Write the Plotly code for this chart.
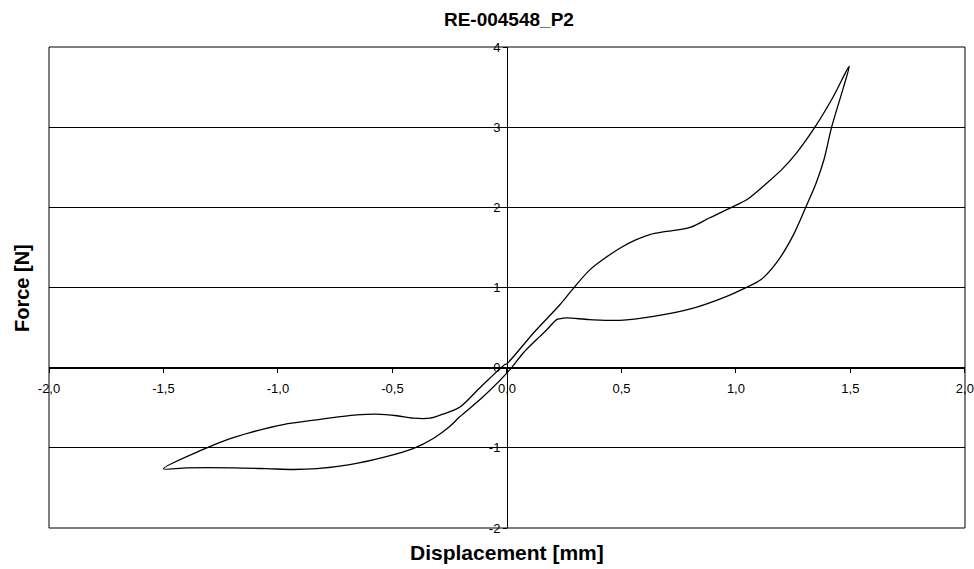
import plotly.graph_objects as go

# Hysteresis loop: displacement [mm] vs force [N], traced in path order
disp_mm = [
    0.0, 0.115, 0.231, 0.29, 0.362, 0.43, 0.493, 0.56, 0.624, 0.697, 0.80, 0.886,
    0.981, 1.05, 1.134, 1.20, 1.265, 1.345, 1.425, 1.495,
    1.47, 1.418, 1.385, 1.35, 1.305, 1.25, 1.18, 1.11, 1.03, 0.96, 0.81, 0.64,
    0.493, 0.36, 0.26, 0.23, 0.217, 0.173, 0.144, 0.07, 0.013,
    -0.103, -0.205, -0.249, -0.32, -0.41, -0.54, -0.686, -0.83, -0.933, -1.05,
    -1.195, -1.40, -1.50,
    -1.319, -1.224, -1.122, -0.977, -0.83, -0.656, -0.569, -0.48, -0.41, -0.336,
    -0.28, -0.205, -0.118, -0.009, 0.0,
]
force_N = [
    0.05, 0.43, 0.785, 0.99, 1.22, 1.37, 1.49, 1.59, 1.66, 1.70, 1.75, 1.87,
    2.0, 2.10, 2.30, 2.47, 2.68, 3.0, 3.38, 3.76,
    3.5, 3.0, 2.6, 2.3, 2.0, 1.65, 1.32, 1.1, 0.98, 0.89, 0.74, 0.64,
    0.59, 0.60, 0.62, 0.61, 0.60, 0.47, 0.39, 0.18, -0.025,
    -0.36, -0.61, -0.73, -0.88, -1.01, -1.12, -1.21, -1.26, -1.27, -1.26,
    -1.25, -1.25, -1.26,
    -1.01, -0.90, -0.81, -0.71, -0.65, -0.59, -0.58, -0.60, -0.63, -0.63,
    -0.58, -0.49, -0.25, 0.04, 0.05,
]

x_tick_vals = [-2.0, -1.5, -1.0, -0.5, 0.0, 0.5, 1.0, 1.5, 2.0]
x_tick_text = ["-2,0", "-1,5", "-1,0", "-0,5", "0,0", "0,5", "1,0", "1,5", "2,0"]
y_tick_vals = [-2, -1, 0, 1, 2, 3, 4]
y_tick_text = ["-2", "-1", "0", "1", "2", "3", "4"]

chart_title = "RE-004548_P2"
x_title = "Displacement [mm]"
y_title = "Force [N]"

FONT = "Liberation Sans, Arial, sans-serif"

fig = go.Figure()
fig.add_trace(go.Scatter(
    x=disp_mm, y=force_N, mode="lines",
    line=dict(color="black", width=1.3, shape="spline", smoothing=0.9),
    showlegend=False, hoverinfo="skip",
))

fig.update_layout(
    width=974, height=569, autosize=False,
    margin=dict(l=49, r=9, t=47, b=41),
    paper_bgcolor="white", plot_bgcolor="white",
    font=dict(family=FONT, color="black", size=13),
    title=dict(text="<b>" + chart_title + "</b>", x=0.5225, xanchor="center",
               y=1 - 19 / 569, yanchor="middle",
               font=dict(family=FONT, size=19, color="black")),
    xaxis=dict(
        range=[-2, 2.0005], anchor="free", position=1 / 3, automargin=False,
        tickvals=x_tick_vals, ticktext=x_tick_text,
        showgrid=False, zeroline=False,
        showline=True, linecolor="black", linewidth=1,
        ticks="outside", ticklen=4, tickcolor="black",
        ticklabelstandoff=5,
        tickfont=dict(family=FONT, size=13, color="black"),
    ),
    yaxis=dict(
        range=[-2, 4], anchor="free", position=0.5, automargin=False,
        tickvals=y_tick_vals, ticktext=y_tick_text,
        showgrid=True, gridcolor="black", gridwidth=1,
        zeroline=False,
        showline=True, linecolor="black", linewidth=1,
        ticks="outside", ticklen=4, tickcolor="black",
        tickfont=dict(family=FONT, size=13, color="black"),
    ),
    shapes=[dict(type="rect", xref="paper", yref="paper", x0=0, y0=0, x1=1, y1=1,
                 line=dict(color="black", width=1), fillcolor="rgba(0,0,0,0)")],
    annotations=[
        dict(text="<b>" + x_title + "</b>", xref="paper", yref="paper",
             x=0.5, y=-24 / 481, xanchor="center", yanchor="middle",
             showarrow=False, font=dict(family=FONT, size=21, color="black")),
        dict(text="<b>" + y_title + "</b>", xref="paper", yref="paper",
             x=-27 / 916, y=(528 - 288) / 481, xanchor="center", yanchor="middle",
             textangle=-90, showarrow=False,
             font=dict(family=FONT, size=20, color="black")),
    ],
)

fig.write_html("out.html")
